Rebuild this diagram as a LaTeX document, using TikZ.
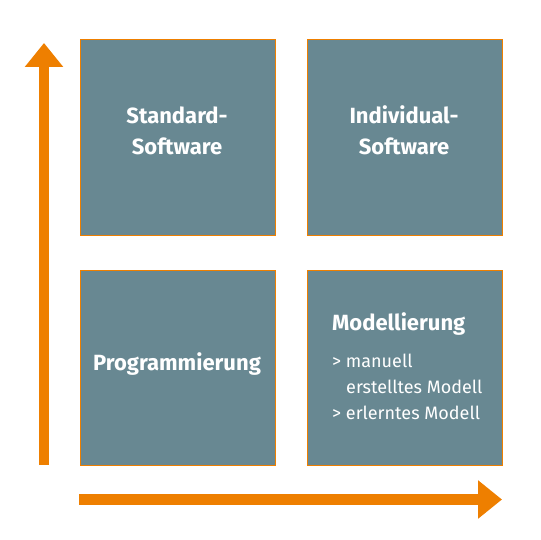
\documentclass[tikz,border=0pt]{standalone}
\usepackage{fontspec}
\setmainfont{Fira Sans}
\usetikzlibrary{arrows.meta}
\definecolor{boxc}{HTML}{688892}
\definecolor{orng}{HTML}{EE7F00}
\begin{document}
\begin{tikzpicture}[x=1pt,y=-1pt,
  quad/.style={draw=orng,line width=0.8pt,fill=boxc,minimum width=195pt,minimum height=195pt,inner sep=0pt,anchor=north west},
  ttl/.style={text=white,font=\fontsize{22}{30.5}\selectfont\bfseries,align=center,inner sep=0pt},
  sub/.style={text=white,font=\fontsize{18}{25.5}\selectfont,align=left,anchor=base west,inner sep=0pt},
  axis/.style={draw=orng,line width=10.5pt,-{Triangle[length=24pt,width=37pt]}}]
\useasboundingbox (0,0) rectangle (540,540);
\node[quad] (tl) at (80,39.5) {};
\node[quad] (tr) at (307,39.5) {};
\node[quad] (bl) at (80,270) {};
\node[quad] (br) at (307,270) {};
\node[ttl,anchor=base] (t1) at (177,154) {Standard-\\Software};
\node[ttl,anchor=base] (t2) at (404,154) {Individual-\\Software};
\node[ttl,anchor=base] (t3) at (177,370) {Programmierung};
\node[ttl,anchor=base west] (t4) at (332,330) {Modellierung};
\node[sub] (s1) at (332,393) {>\ manuell\\\hspace*{14pt}erstelltes Modell};
\node[sub] (s2) at (332,419) {>\ erlerntes Modell};
\coordinate (vb) at (44,465);
\coordinate (vt) at (44,43);
\coordinate (hl) at (79,499.5);
\coordinate (hr) at (502,499.5);
\draw[axis] (vb) -- (vt);
\draw[axis] (hl) -- (hr);
\end{tikzpicture}
\end{document}
